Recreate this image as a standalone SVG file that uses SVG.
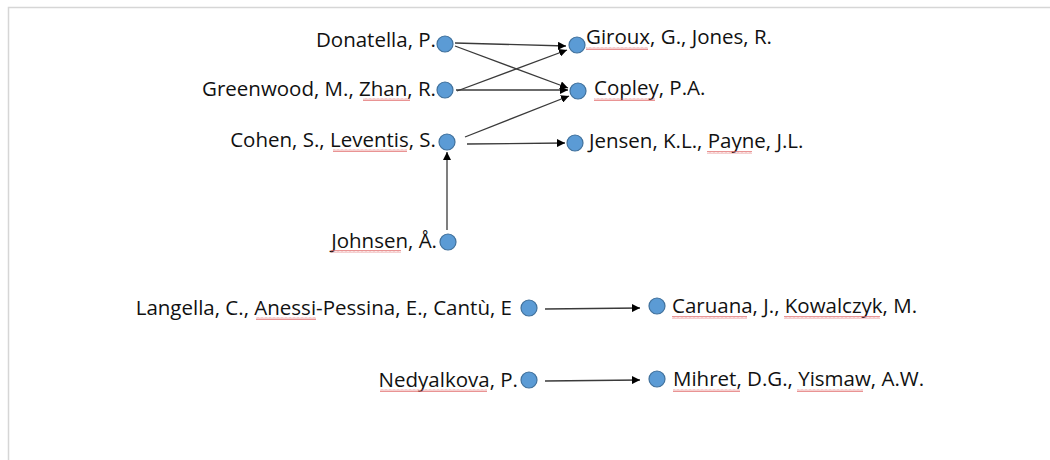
<svg xmlns="http://www.w3.org/2000/svg" width="1050" height="460" viewBox="0 0 1050 460">
<style>
.t{font-family:"Open Sans","Liberation Sans",sans-serif;font-size:20.5px;fill:#111}
.l{text-anchor:end}
.n{fill:#5b9bd5;stroke:#41719c;stroke-width:1.2}
.c{stroke:#3a3a3a;stroke-width:1.3;fill:none;marker-end:url(#ah)}
.sq{fill:url(#zig)}
</style>
<defs>
<marker id="ah" viewBox="0 0 10 10" refX="10" refY="5" markerWidth="8" markerHeight="8" markerUnits="userSpaceOnUse" orient="auto">
<path d="M0,0 L10,5 L0,10 z" fill="#000"/>
</marker>
<pattern id="zig" width="4" height="3" patternUnits="userSpaceOnUse">
<path d="M0,2.5 L1,0.5 L2,2.5 L3,0.5 L4,2.5" stroke="#e06666" stroke-width="0.7" fill="none"/>
</pattern>
</defs>
<rect x="0" y="0" width="1050" height="460" fill="#fff"/>
<path d="M8.5,460 V7.5 H1050" stroke="#d6d6d6" stroke-width="1.5" fill="none"/>

<g id="connectors">
<line class="c" x1="455" y1="43" x2="566" y2="46"/>
<line class="c" x1="455" y1="46" x2="568" y2="88"/>
<line class="c" x1="456" y1="90" x2="568" y2="90"/>
<line class="c" x1="457" y1="91" x2="567" y2="50"/>
<line class="c" x1="465" y1="137" x2="569" y2="96"/>
<line class="c" x1="467" y1="144" x2="565" y2="143"/>
<line class="c" x1="447" y1="230" x2="447" y2="152"/>
<line class="c" x1="545" y1="309" x2="640" y2="308"/>
<line class="c" x1="545" y1="381" x2="640" y2="380"/>
</g>

<g id="donatella"><circle class="n" cx="445" cy="44" r="8"/><text class="t l" x="436" y="47">Donatella, P.</text></g>
<g id="greenwood"><circle class="n" cx="445" cy="90" r="8"/><text class="t l" x="436" y="96">Greenwood, M., Zhan, R.</text><rect class="sq" x="363" y="98" width="47" height="3"/></g>
<g id="cohen"><circle class="n" cx="447" cy="142" r="8"/><text class="t l" x="436" y="147">Cohen, S., Leventis, S.</text><rect class="sq" x="333" y="149" width="74" height="3"/></g>
<g id="johnsen"><circle class="n" cx="448" cy="242" r="8"/><text class="t l" x="437" y="248">Johnsen, Å.</text><rect class="sq" x="331" y="250" width="70" height="3"/></g>
<g id="giroux"><circle class="n" cx="577" cy="45" r="8"/><text class="t" x="586" y="44">Giroux, G., Jones, R.</text><rect class="sq" x="586" y="47" width="62" height="3"/></g>
<g id="copley"><circle class="n" cx="578" cy="91" r="8"/><text class="t" x="594" y="95">Copley, P.A.</text><rect class="sq" x="594" y="98" width="61" height="3"/></g>
<g id="jensen"><circle class="n" cx="575" cy="143" r="8"/><text class="t" x="589" y="148">Jensen, K.L., Payne, J.L.</text><rect class="sq" x="707" y="151" width="45" height="3"/></g>
<g id="langella"><circle class="n" cx="529" cy="308" r="8"/><text class="t l" x="512" y="315">Langella, C., Anessi-Pessina, E., Cantù, E</text><rect class="sq" x="256" y="317" width="60" height="3"/></g>
<g id="caruana"><circle class="n" cx="657" cy="306" r="8"/><text class="t" x="672" y="313">Caruana, J., Kowalczyk, M.</text><rect class="sq" x="672" y="316" width="75" height="3"/><rect class="sq" x="784" y="316" width="96" height="3"/></g>
<g id="nedyalkova"><circle class="n" cx="529" cy="380" r="8"/><text class="t l" x="518" y="387">Nedyalkova, P.</text><rect class="sq" x="380" y="389" width="107" height="3"/></g>
<g id="mihret"><circle class="n" cx="657" cy="379" r="8"/><text class="t" x="673" y="386">Mihret, D.G., Yismaw, A.W.</text><rect class="sq" x="673" y="389" width="67" height="3"/><rect class="sq" x="797" y="389" width="66" height="3"/></g>
</svg>
